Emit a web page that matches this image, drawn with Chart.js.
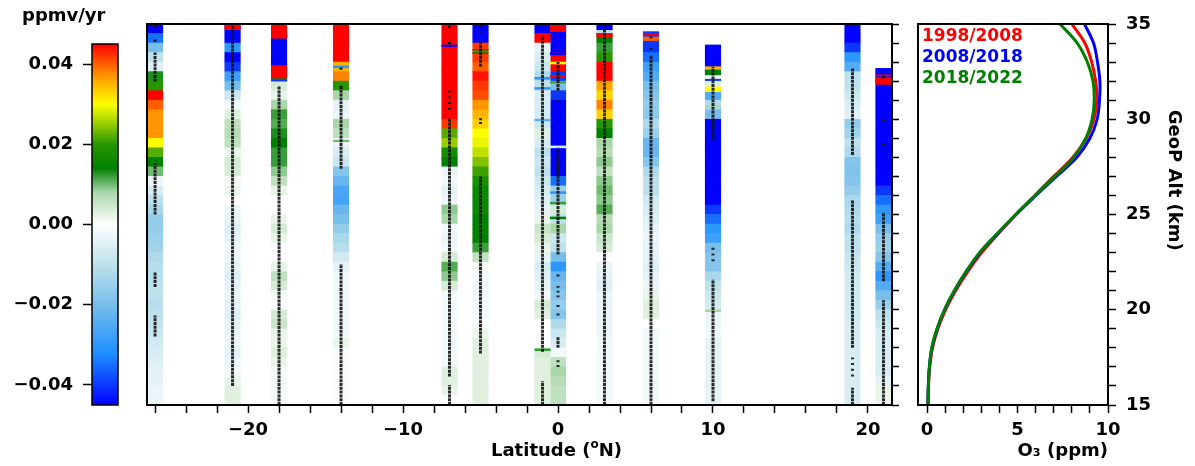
<!DOCTYPE html>
<html>
<head>
<meta charset="utf-8">
<script src="https://cdn.jsdelivr.net/npm/chart.js@4.4.1/dist/chart.umd.min.js"></script>
<style>
  html, body { margin: 0; padding: 0; background: #fff; }
  #wrap { position: relative; width: 1195px; height: 466px; }
  #wrap canvas { position: absolute; left: 0; top: 0; }
</style>
</head>
<body>
<div id="wrap">
  <canvas id="cbar" width="1195" height="466"></canvas>
  <canvas id="trend" width="1195" height="466"></canvas>
  <canvas id="prof" width="1195" height="466"></canvas>
</div>
<script>
// ---- data ----
// altitude bin edges (km), top to bottom, 0.5 km bins
const binEdges = [35, 34.5, 34, 33.5, 33, 32.5, 32, 31.5, 31, 30.5, 30, 29.5, 29, 28.5, 28, 27.5, 27, 26.5, 26, 25.5,
  25, 24.5, 24, 23.5, 23, 22.5, 22, 21.5, 21, 20.5, 20, 19.5, 19, 18.5, 18, 17.5, 17, 16.5, 16, 15.5, 15];

// station latitudes (deg N)
const stripLats = [-26, -21, -18, -14, -7, -5, -1, 0, 3, 6, 10, 19, 21];

// O3 trend (ppmv/yr) per 0.5 km bin, top (35 km) to bottom (15 km)
const trendS26 = [-0.045, -0.035, -0.02, -0.01, -0.005, 0.013, 0.02, 0.045, 0.04, 0.037,
  0.037, 0.037, 0.03, 0.022, 0.014, 0.01, -0.003, -0.006, -0.01, -0.013,
  -0.016, -0.016, -0.015, -0.014, -0.012, -0.011, -0.011, -0.01, -0.01, -0.011,
  -0.01, -0.009, -0.008, -0.007, -0.006, -0.005, -0.004, -0.004, -0.003, -0.003];
const trendS21 = [-0.045, -0.045, -0.03, -0.045, -0.04, -0.028, -0.02, -0.008, -0.002, 0.003,
  0.006, 0.007, 0.006, 0.002, 0.004, 0.004, 0.001, 0.002, 0.0, -0.003,
  -0.004, -0.005, -0.004, -0.003, -0.003, -0.004, -0.005, -0.004, -0.003, -0.004,
  -0.005, -0.004, -0.003, -0.003, -0.004, -0.003, -0.002, 0.002, 0.003, 0.003];
const trendS18 = [0.045, -0.045, -0.045, -0.045, 0.045, 0.045, 0.004, 0.002, 0.008, 0.012,
  0.011, 0.013, 0.014, 0.012, 0.012, 0.009, 0.006, 0.002, 0.0, 0.0,
  0.002, 0.004, 0.002, 0.0, 0.0, 0.002, 0.006, 0.004, 0.001, 0.0,
  0.004, 0.005, 0.002, 0.002, 0.003, 0.002, 0.001, 0.001, 0.001, 0.001];
const trendS14 = [0.045, 0.045, 0.045, 0.045, 0.035, 0.038, 0.02, 0.008, -0.004, -0.003,
  0.008, 0.006, -0.003, -0.006, -0.008, -0.018, -0.022, -0.026, -0.027, -0.022,
  -0.02, -0.016, -0.013, -0.011, -0.007, -0.004, -0.002, -0.002, -0.002, -0.002,
  -0.002, -0.002, -0.002, 0.002, -0.001, -0.001, -0.001, -0.001, -0.001, -0.001];
const trendS7 = [0.045, 0.045, 0.045, 0.045, 0.045, 0.045, 0.045, 0.045, 0.045, 0.045,
  0.042, 0.022, 0.025, 0.017, 0.014, -0.003, -0.002, -0.004, -0.003, 0.009,
  0.008, -0.002, -0.003, -0.002, 0.004, 0.011, 0.009, 0.004, -0.002, -0.002,
  -0.002, -0.002, -0.002, -0.002, -0.002, -0.002, 0.003, 0.003, 0.002, 0.0];
const trendS5 = [-0.045, -0.045, 0.042, 0.042, 0.04, 0.044, 0.042, 0.041, 0.037, 0.035,
  0.033, 0.03, 0.029, 0.027, 0.024, 0.021, 0.018, 0.016, 0.016, 0.016,
  0.014, 0.014, 0.014, 0.012, 0.006, 0.001, -0.002, -0.002, -0.002, -0.002,
  -0.002, -0.001, 0.002, 0.003, 0.003, 0.003, 0.003, 0.003, 0.003, 0.003];
const trendS1 = [-0.045, 0.045, -0.004, -0.006, -0.008, -0.012, -0.01, -0.006, -0.006, -0.007,
  -0.008, 0.003, -0.006, -0.01, -0.008, -0.01, -0.008, -0.006, -0.005, -0.004,
  0.002, 0.005, 0.004, 0.002, -0.004, -0.006, -0.005, -0.004, -0.002, 0.004,
  0.003, 0.0, 0.0, 0.0, 0.004, 0.003, 0.003, 0.003, 0.003, 0.003];
const trendEq = [-0.045, -0.045, -0.045, 0.045, 0.045, -0.04, -0.02, -0.04, -0.045, -0.045,
  -0.045, -0.045, -0.045, -0.045, -0.045, -0.045, -0.035, -0.015, -0.015, 0.004,
  -0.01, 0.008, -0.008, -0.01, -0.02, -0.03, -0.022, -0.02, -0.018, -0.016,
  -0.018, -0.012, -0.008, -0.006, -0.002, 0.006, 0.008, 0.007, 0.006, 0.006];
const trendN3 = [-0.01, 0.014, 0.012, 0.02, 0.045, 0.045, 0.036, 0.033, 0.038, 0.033,
  0.02, 0.014, 0.008, 0.007, 0.009, 0.006, 0.009, 0.01, 0.009, 0.011,
  0.007, 0.008, 0.005, 0.004, 0.0, -0.003, -0.004, -0.005, -0.003, -0.003,
  -0.003, -0.003, -0.003, -0.002, -0.002, -0.002, -0.002, -0.002, -0.002, -0.002];
const trendN6 = [null, -0.04, -0.04, -0.035, -0.028, -0.025, -0.02, -0.018, -0.016, -0.017,
  -0.012, -0.015, -0.022, -0.022, -0.018, -0.012, -0.01, -0.01, -0.007, -0.006,
  -0.005, -0.004, -0.003, -0.004, -0.004, -0.005, -0.004, -0.003, 0.002, 0.003,
  0.003, 0.0, -0.002, -0.002, -0.002, -0.002, -0.002, -0.002, -0.002, -0.002];
const trendN10 = [null, null, null, -0.045, -0.045, -0.003, 0.003, -0.025, -0.012, -0.02,
  -0.045, -0.045, -0.045, -0.045, -0.045, -0.045, -0.045, -0.045, -0.045, -0.04,
  -0.035, -0.03, -0.028, -0.02, -0.018, -0.018, -0.013, -0.01, -0.008, -0.007,
  -0.003, -0.003, -0.002, -0.004, -0.004, -0.004, -0.004, -0.004, -0.004, -0.004];
const trendN19 = [-0.045, -0.045, -0.04, -0.03, -0.025, -0.01, -0.01, -0.008, -0.006, -0.005,
  -0.016, -0.014, -0.01, -0.012, -0.018, -0.019, -0.018, -0.016, -0.013, -0.012,
  -0.011, -0.012, -0.01, -0.01, -0.009, -0.008, -0.007, -0.007, -0.007, -0.007,
  -0.007, -0.006, -0.006, -0.006, -0.006, -0.006, -0.006, -0.006, -0.006, -0.006];
const trendN21 = [null, null, null, null, null, -0.045, -0.045, -0.045, -0.045, -0.045,
  -0.045, -0.045, -0.045, -0.045, -0.045, -0.045, -0.045, -0.04, -0.035, -0.03,
  -0.028, -0.02, -0.016, -0.015, -0.018, -0.025, -0.03, -0.025, -0.02, -0.015,
  -0.01, -0.008, -0.006, -0.006, -0.006, -0.006, -0.006, -0.004, 0.002, 0.002];
const stripTrends = [trendS26, trendS21, trendS18, trendS14, trendS7, trendS5, trendS1, trendEq,
  trendN3, trendN6, trendN10, trendN19, trendN21];

// thin layers finer than a bin: [lat, bottom km, top km, trend]
const thinBands = [
  [-21, 34.7, 35, 0.045],
  [-18, 34.25, 34.5, 0.045], [-18, 32.85, 33, -0.045], [-18, 32.06, 32.13, 0.014], [-18, 32.0, 32.06, -0.04],
  [-14, 32.7, 32.8, -0.03], [-14, 28.82, 28.9, 0.01],
  [-7, 33.82, 33.9, -0.045],
  [-5, 33.45, 33.5, 0.014], [-5, 33.62, 33.67, 0.014],
  [-1, 32.1, 32.2, -0.03], [-1, 31.57, 31.67, -0.03], [-1, 29.92, 30.0, -0.025], [-1, 17.85, 17.95, 0.012],
  [0, 34.6, 35, 0.045], [0, 33.38, 33.5, -0.045], [0, 32.9, 33.0, 0.03], [0, 32.2, 32.3, 0.045],
  [0, 31.9, 31.97, 0.012], [0, 28.5, 28.6, -0.005], [0, 26.1, 26.2, -0.03], [0, 25.55, 25.65, 0.012],
  [0, 24.77, 24.87, 0.014],
  [3, 34.7, 35, -0.045], [3, 34.28, 34.5, 0.045],
  [6, 34.5, 34.6, -0.04], [6, 34.4, 34.45, 0.045], [6, 34.13, 34.32, 0.04],
  [10, 33.5, 33.9, -0.045], [10, 32.59, 32.76, 0.035], [10, 32.33, 32.59, 0.014], [10, 32.03, 32.1, -0.04],
  [10, 31.45, 31.7, 0.03], [10, 30.62, 30.7, 0.008], [10, 19.9, 20.0, 0.008],
  [21, 32.5, 32.67, -0.045], [21, 32.27, 32.33, 0.045], [21, 31.83, 32.18, 0.045]
];

// altitude runs with sonde samples: [lat, from km, to km]
const sampleRuns = [
  [-26, 34.82, 34.95], [-26, 34.06, 34.18], [-26, 31.97, 33.5], [-26, 25.0, 27.7], [-26, 21.2, 22.0], [-26, 18.6, 19.7],
  [-21, 16.0, 35],
  [-18, 15, 31.75],
  [-14, 32.6, 32.72], [-14, 27.4, 31.8], [-14, 15, 22.4],
  [-7, 34.8, 34.92], [-7, 33.93, 34.05], [-7, 31.4, 31.5], [-7, 31.1, 31.2], [-7, 30.8, 30.9], [-7, 30.5, 30.6],
  [-7, 16.5, 30.05], [-7, 15, 16.05],
  [-5, 34.8, 34.92], [-5, 34.5, 34.6], [-5, 32.76, 34.07], [-5, 29.95, 30.05], [-5, 29.75, 29.85], [-5, 17.7, 27.0],
  [-1, 17.8, 34.42], [-1, 15, 16.25],
  [0, 31.5, 33.0], [0, 30.9, 31.0], [0, 22.9, 28.5], [0, 21.75, 21.85], [0, 21.15, 21.25], [0, 20.9, 21.0],
  [0, 20.65, 20.75], [0, 20.15, 20.25], [0, 19.7, 19.8], [0, 18.0, 18.6], [0, 17.25, 17.35], [0, 17.0, 17.1],
  [3, 15, 34.86],
  [6, 34.25, 34.35], [6, 33.65, 33.75], [6, 15, 33.36],
  [10, 28.9, 32.76], [10, 23.15, 23.25], [10, 22.85, 22.95], [10, 22.55, 22.65], [10, 15.2, 21.6],
  [19, 28.12, 32.67], [19, 18.0, 25.77], [19, 17.4, 17.5], [19, 17.1, 17.2], [19, 16.8, 16.9], [19, 16.5, 16.6], [19, 15, 15.9],
  [21, 32.15, 32.3], [21, 29.9, 30.0], [21, 28.65, 28.75], [21, 21.5, 25.1], [21, 15, 20.5]
];

// mean O3 profiles (ppm)
const altKm = [15, 16, 17, 18, 19, 20, 21, 22, 23, 24, 25, 26, 27, 28, 29, 30, 31, 32, 33, 34, 35];
const o3Early = [0.05, 0.08, 0.15, 0.3, 0.6, 1.02, 1.58, 2.25, 3.02, 3.95, 4.92, 5.95, 7.0, 8.05, 8.8, 9.22, 9.38, 9.32, 9.1, 8.72, 8.0];
const o3Mid = [0.05, 0.07, 0.13, 0.27, 0.56, 0.97, 1.52, 2.17, 2.93, 3.9, 4.92, 6.02, 7.15, 8.28, 9.0, 9.4, 9.53, 9.55, 9.42, 9.2, 8.7];
const o3Late = [0.04, 0.07, 0.13, 0.26, 0.55, 0.96, 1.5, 2.15, 2.9, 3.88, 4.9, 5.98, 7.06, 8.1, 8.77, 9.12, 9.24, 9.17, 8.86, 8.3, 7.35];
const periodLabels = ['1998/2008', '2008/2018', '2018/2022'];

const cbarMin = -0.045, cbarMax = 0.045;

// ---- colour map ----
const cmapStops = [
  [-0.045, [0, 0, 255]], [-0.032, [30, 144, 255]], [-0.02, [120, 190, 235]], [-0.01, [190, 225, 235]],
  [0.0, [255, 255, 255]], [0.008, [170, 215, 170]], [0.014, [0, 128, 0]], [0.02, [40, 150, 0]],
  [0.025, [150, 205, 0]], [0.03, [255, 255, 0]], [0.037, [255, 150, 0]], [0.045, [255, 0, 0]]
];
function trendColor(v) {
  v = Math.max(cbarMin, Math.min(cbarMax, v));
  for (let i = 1; i < cmapStops.length; i++) {
    const [v1, c1] = cmapStops[i];
    if (v <= v1) {
      const [v0, c0] = cmapStops[i - 1];
      const t = (v - v0) / (v1 - v0);
      const c = c0.map((a, j) => Math.round(a + (c1[j] - a) * t));
      return 'rgb(' + c.join(',') + ')';
    }
  }
  return 'rgb(255,0,0)';
}
function fmtSigned(v, d) {
  if (Math.abs(v) < 1e-9) return (0).toFixed(d);
  return (v < 0 ? '\u2212' : '') + Math.abs(v).toFixed(d);
}

Chart.defaults.font.family = "'DejaVu Sans'";
Chart.defaults.font.size = 18;
Chart.defaults.font.weight = 'bold';
Chart.defaults.color = '#000';

const framePlugin = {
  id: 'frame',
  afterDraw(chart, args, opts) {
    const { ctx, chartArea: a } = chart;
    ctx.save();
    ctx.strokeStyle = '#000';
    ctx.lineWidth = opts.width || 2;
    ctx.strokeRect(a.left, a.top, a.right - a.left, a.bottom - a.top);
    ctx.restore();
  }
};

const tickGrid = (len) => ({
  display: true, drawOnChartArea: false, drawTicks: true,
  tickLength: len, tickColor: '#000', tickWidth: 1.5, offset: false
});

// ---- colour bar ----
new Chart(document.getElementById('cbar'), {
  type: 'bar',
  data: {
    labels: [''],
    datasets: [{
      data: [[cbarMin, cbarMax]],
      borderWidth: 0,
      categoryPercentage: 1,
      barPercentage: 1,
      backgroundColor: (c) => {
        const chart = c.chart;
        const ys = chart.scales.y;
        if (!ys || !chart.chartArea) return '#fff';
        const g = chart.ctx.createLinearGradient(0, ys.getPixelForValue(cbarMin), 0, ys.getPixelForValue(cbarMax));
        cmapStops.forEach(([v, rgb]) => g.addColorStop((v - cbarMin) / (cbarMax - cbarMin), 'rgb(' + rgb.join(',') + ')'));
        return g;
      }
    }]
  },
  options: {
    responsive: false, animation: false, devicePixelRatio: 1,
    layout: { padding: { left: 10, top: 0, right: 1077, bottom: 61 } },
    plugins: {
      legend: { display: false }, tooltip: { enabled: false },
      title: { display: true, text: 'ppmv/yr', align: 'start', font: { size: 18, weight: 'bold' }, padding: { top: 6, bottom: 16.4 } },
      frame: { width: 1.5 }
    },
    scales: {
      x: { display: false },
      y: {
        position: 'left', min: cbarMin, max: cbarMax,
        grid: tickGrid(9), border: { display: false },
        ticks: { stepSize: 0.02, includeBounds: false, padding: 10, callback: (v) => fmtSigned(v, 2) },
        afterFit: (s) => { s.width = 82; }
      }
    }
  },
  plugins: [framePlugin, {
    id: 'titleShift',
    beforeDraw(chart) { chart.titleBlock.left = 22; chart.titleBlock.right = 130; }
  }]
});

// ---- trend strips ----
const stripSets = stripLats.map((lat, s) => {
  const pts = [], cols = [];
  stripTrends[s].forEach((v, k) => {
    if (v === null) return;
    pts.push({ x: lat, y: [binEdges[k + 1], binEdges[k]] });
    cols.push(trendColor(v));
  });
  return { type: 'bar', data: pts, backgroundColor: cols, borderWidth: 0, order: 3 };
});
const thinSet = {
  type: 'bar',
  data: thinBands.map(b => ({ x: b[0], y: [b[1], b[2]] })),
  backgroundColor: thinBands.map(b => trendColor(b[3])),
  borderWidth: 0, order: 2
};
const samplePts = [];
sampleRuns.forEach(r => {
  samplePts.push({ x: r[0], y: r[1] }, { x: r[0], y: r[2] }, { x: r[0], y: null });
});
const sampleSet = {
  type: 'line', data: samplePts, borderColor: 'rgba(20,20,20,0.9)', borderWidth: 3,
  borderDash: [3, 0.8], pointRadius: 0, spanGaps: false, tension: 0, order: 1
};

const latLabel = {
  id: 'latLabel',
  afterDraw(chart) {
    const { ctx, chartArea: a } = chart;
    const cx = chart.scales.x.getPixelForValue(-0.1);
    const y = a.bottom + 46;
    const big = "bold 18px 'DejaVu Sans'", small = "bold 12px 'DejaVu Sans'";
    const p1 = 'Latitude (', p2 = 'o', p3 = 'N)';
    ctx.save();
    ctx.fillStyle = '#000';
    ctx.textBaseline = 'middle';
    ctx.textAlign = 'left';
    ctx.font = big; const w1 = ctx.measureText(p1).width, w3 = ctx.measureText(p3).width;
    ctx.font = small; const w2 = ctx.measureText(p2).width;
    let x = cx - (w1 + w2 + w3) / 2;
    ctx.font = big; ctx.fillText(p1, x, y); x += w1;
    ctx.font = small; ctx.fillText(p2, x, y - 6); x += w2;
    ctx.font = big; ctx.fillText(p3, x, y);
    ctx.restore();
  }
};

new Chart(document.getElementById('trend'), {
  type: 'bar',
  data: { datasets: [...stripSets, thinSet, sampleSet] },
  options: {
    responsive: false, animation: false, devicePixelRatio: 1,
    layout: { padding: { left: 147, top: 24, right: 293, bottom: 0 } },
    plugins: { legend: { display: false }, tooltip: { enabled: false }, frame: { width: 2 } },
    datasets: { bar: { grouped: false, categoryPercentage: 1, barPercentage: 1 } },
    scales: {
      x: {
        type: 'linear', min: -26.52, max: 21.55, offset: false, position: 'bottom',
        grid: tickGrid(8), border: { display: false },
        ticks: { stepSize: 2, includeBounds: false, autoSkip: false, maxRotation: 0, padding: 7,
          callback: (v) => (v % 10 === 0 ? fmtSigned(v, 0) : '') },
        afterFit: (s) => { s.height = 61; s.paddingLeft = 0; s.paddingRight = 0; }
      },
      y: {
        type: 'linear', min: 15, max: 35, position: 'right',
        grid: tickGrid(7), border: { display: false },
        ticks: { stepSize: 1, display: false },
        afterFit: (s) => { s.width = 10; s.paddingTop = 0; s.paddingBottom = 0; }
      }
    }
  },
  plugins: [framePlugin, latLabel]
});

// ---- O3 profiles ----
const inlineLegend = {
  id: 'inlineLegend',
  afterDraw(chart) {
    const { ctx, chartArea: a } = chart;
    ctx.save();
    ctx.font = "bold 17px 'DejaVu Sans'";
    ctx.textBaseline = 'middle';
    ctx.textAlign = 'left';
    chart.data.datasets.forEach((ds, i) => {
      ctx.fillStyle = ds.borderColor;
      ctx.fillText(ds.label, a.left + 4, a.top + 13 + i * 21);
    });
    ctx.restore();
  }
};
const altLabel = {
  id: 'altLabel',
  afterDraw(chart) {
    const { ctx, chartArea: a } = chart;
    ctx.save();
    ctx.translate(a.right + 66, chart.scales.y.getPixelForValue(26.8));
    ctx.rotate(Math.PI / 2);
    ctx.font = "bold 18px 'DejaVu Sans'";
    ctx.fillStyle = '#000';
    ctx.textAlign = 'center';
    ctx.textBaseline = 'middle';
    ctx.fillText('GeoP Alt (km)', 0, 0);
    ctx.restore();
  }
};

const profile = (vals) => altKm.map((a, i) => ({ x: vals[i], y: a }));
new Chart(document.getElementById('prof'), {
  type: 'line',
  data: {
    datasets: [
      { label: periodLabels[0], data: profile(o3Early), borderColor: '#ff0000', order: 3 },
      { label: periodLabels[1], data: profile(o3Mid), borderColor: '#0000ff', order: 2 },
      { label: periodLabels[2], data: profile(o3Late), borderColor: '#008000', order: 1 }
    ]
  },
  options: {
    responsive: false, animation: false, devicePixelRatio: 1,
    layout: { padding: { left: 918, top: 24, right: 0, bottom: 0 } },
    elements: { point: { radius: 0 }, line: { borderWidth: 3, tension: 0.35 } },
    plugins: { legend: { display: false }, tooltip: { enabled: false }, frame: { width: 2 } },
    scales: {
      x: {
        type: 'linear', min: -0.5, max: 10, position: 'bottom',
        grid: tickGrid(8), border: { display: false },
        ticks: { stepSize: 1, includeBounds: false, autoSkip: false, maxRotation: 0, padding: 7,
          callback: (v) => (v % 5 === 0 ? String(v) : '') },
        title: { display: true, text: 'O\u2083 (ppm)', align: 'end', font: { size: 18, weight: 'bold' }, padding: { top: 0, bottom: 4 } },
        afterFit: (s) => { s.height = 61; s.paddingLeft = 0; s.paddingRight = 0; }
      },
      y: {
        type: 'linear', min: 15, max: 35, position: 'right',
        grid: tickGrid(8), border: { display: false },
        ticks: { stepSize: 1, autoSkip: false, padding: 10, callback: (v) => (v % 5 === 0 ? String(v) : '') },
        afterFit: (s) => { s.width = 87; s.paddingTop = 0; s.paddingBottom = 0; }
      }
    }
  },
  plugins: [framePlugin, inlineLegend, altLabel]
});
</script>
</body>
</html>
